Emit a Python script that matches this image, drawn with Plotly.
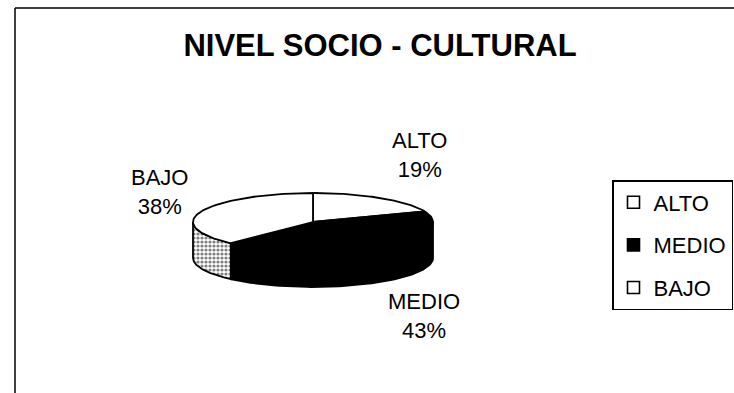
import numpy as np
import plotly.graph_objects as go

# ---- data ----
categories = ["ALTO", "MEDIO", "BAJO"]
percentages = [19, 43, 38]
title_text = "NIVEL SOCIO - CULTURAL"

# ---- styles ----
top_colors = {"ALTO": "white", "MEDIO": "black", "BAJO": "white"}
side_colors = {"ALTO": "white", "MEDIO": "black", "BAJO": "white"}
legend_colors = {"ALTO": "white", "MEDIO": "black", "BAJO": "white"}
FONT = "Arial, 'Liberation Sans', sans-serif"

W, H = 734, 393
cx, cy, rx, ry, depth = 313, 222, 120, 29, 36

def pt(theta_deg, dy=0.0):
    t = np.radians(theta_deg)
    return cx + rx * np.sin(t), cy - ry * np.cos(t) + dy

def arc(a, b, dy=0.0, n=80):
    th = np.linspace(a, b, n)
    xs, ys = pt(th, dy)
    return list(xs), list(ys)

fig = go.Figure()

total = float(sum(percentages))
bounds = []
start = 0.0
for cat, v in zip(categories, percentages):
    end = start + 360.0 * v / total
    bounds.append((cat, start, end))
    start = end

# side walls (front half only: 90..270 deg clockwise from top)
for cat, a, b in bounds:
    lo, hi = max(a, 90.0), min(b, 270.0)
    if hi <= lo:
        continue
    xt, yt = arc(lo, hi)
    xb, yb = arc(hi, lo, dy=depth)
    kw = {}
    if cat == "BAJO":
        kw["fillpattern"] = dict(shape=".", fgcolor="black", bgcolor="white",
                                 size=4, solidity=0.5)
    fig.add_trace(go.Scatter(
        x=xt + xb + [xt[0]], y=yt + yb + [yt[0]],
        mode="lines", fill="toself", fillcolor=side_colors[cat],
        line=dict(color="black", width=1.8), showlegend=False,
        hoverinfo="skip", **kw))

# top faces
for cat, a, b in bounds:
    xa, ya = arc(a, b)
    fig.add_trace(go.Scatter(
        x=[cx] + xa + [cx], y=[cy] + ya + [cy],
        mode="lines", fill="toself", fillcolor=top_colors[cat],
        line=dict(color="black", width=1.8), showlegend=False,
        hoverinfo="skip"))

# legend entries
for cat in categories:
    fig.add_trace(go.Scatter(
        x=[None], y=[None], mode="markers", name=cat, legendgroup=cat,
        marker=dict(symbol="square", size=12, color=legend_colors[cat],
                    line=dict(color="black", width=1.6))))

# data labels
label_pos = {"ALTO": (419, 155), "BAJO": (159, 192), "MEDIO": (424, 316)}
for cat, v in zip(categories, percentages):
    x, y = label_pos[cat]
    fig.add_annotation(x=x, y=y, xref="x", yref="y", showarrow=False,
                       text=f"{cat}<br>{v}%", align="center",
                       font=dict(family=FONT, size=22, color="black"))

fig.update_layout(
    width=W, height=H, margin=dict(l=0, r=0, t=0, b=0),
    paper_bgcolor="white", plot_bgcolor="white",
    title=dict(text=f"<b>{title_text}</b>", x=380 / W, xanchor="center",
               y=1 - 45 / H, yanchor="middle",
               font=dict(family=FONT, size=31, color="black")),
    xaxis=dict(range=[0, W], visible=False, fixedrange=True),
    yaxis=dict(range=[H, 0], visible=False, fixedrange=True),
    legend=dict(x=612 / W, y=1 - 180 / H, xanchor="left", yanchor="top",
                bordercolor="black", borderwidth=1.5, bgcolor="white",
                font=dict(family=FONT, size=22, color="black"),
                itemwidth=30, tracegroupgap=11),
    showlegend=True,
    shapes=[
        dict(type="line", xref="paper", yref="paper", x0=15 / W, x1=15 / W,
             y0=0, y1=1 - 8 / H, line=dict(color="black", width=1.5)),
        dict(type="line", xref="paper", yref="paper", x0=15 / W, x1=1,
             y0=1 - 8 / H, y1=1 - 8 / H, line=dict(color="black", width=1.5)),
    ],
)

fig.write_html("out.html")
